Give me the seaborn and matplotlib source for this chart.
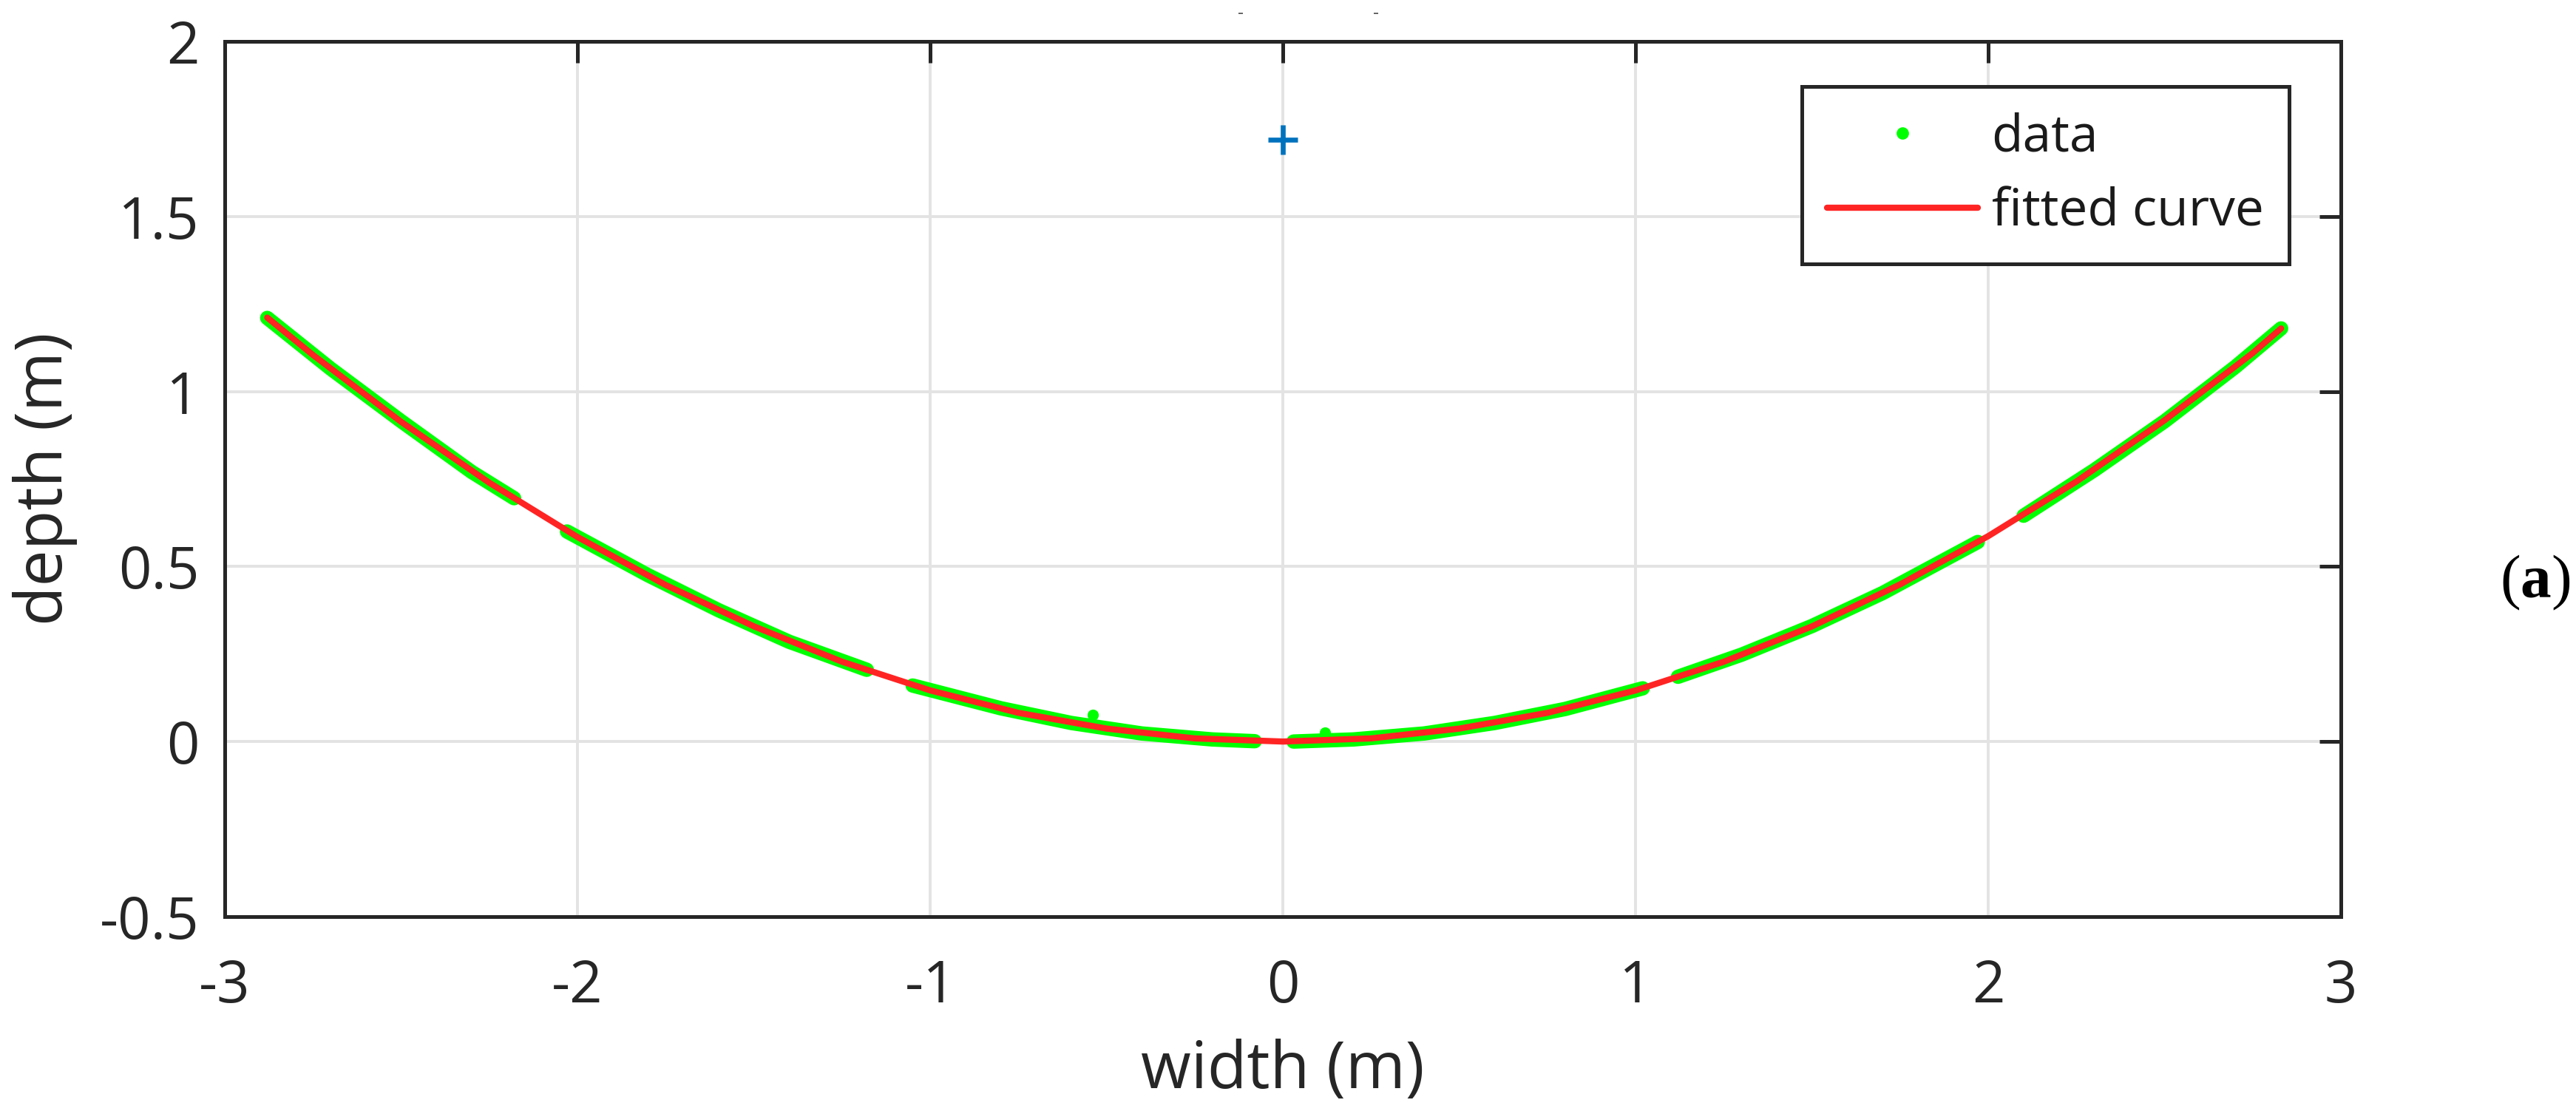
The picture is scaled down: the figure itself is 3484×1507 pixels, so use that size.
import matplotlib
matplotlib.use("Agg")
import matplotlib.pyplot as plt
from matplotlib.lines import Line2D
from matplotlib.ticker import FuncFormatter
import pandas as pd
import seaborn as sns

# measured points (green), split into the scanned segments
seg_x = [
    [-2.88, -2.7, -2.5, -2.3, -2.18],
    [-2.03, -1.8, -1.6, -1.4, -1.18],
    [-1.05, -0.8, -0.6, -0.4, -0.2, -0.08],
    [0.03, 0.2, 0.4, 0.6, 0.8, 1.02],
    [1.12, 1.3, 1.5, 1.7, 1.97],
    [2.10, 2.3, 2.5, 2.7, 2.83],
]
seg_y = [
    [1.21, 1.065, 0.915, 0.77, 0.695],
    [0.60, 0.475, 0.375, 0.285, 0.205],
    [0.16, 0.095, 0.053, 0.023, 0.006, 0.001],
    [0.0, 0.006, 0.023, 0.053, 0.093, 0.152],
    [0.185, 0.248, 0.33, 0.424, 0.57],
    [0.645, 0.775, 0.915, 1.07, 1.18],
]
outlier_x = [-0.54, 0.12]
outlier_y = [0.076, 0.025]

# fitted curve (red)
fit_x = [-2.88, -2.75, -2.5, -2.25, -2.0, -1.75, -1.5, -1.25, -1.0, -0.75, -0.5, -0.25,
         0.0, 0.25, 0.5, 0.75, 1.0, 1.25, 1.5, 1.75, 2.0, 2.25, 2.5, 2.75, 2.83]
fit_y = [1.211, 1.104, 0.913, 0.739, 0.584, 0.447, 0.329, 0.228, 0.146, 0.082, 0.037, 0.009,
         0.0, 0.009, 0.037, 0.082, 0.146, 0.228, 0.329, 0.449, 0.587, 0.743, 0.918, 1.11, 1.18]

# focus point (blue +)
focus_x = [0.0]
focus_y = [1.72]

xticks = [-3, -2, -1, 0, 1, 2, 3]
yticks = [-0.5, 0, 0.5, 1, 1.5, 2]

sns.set_theme(style="white")
plt.rcParams['font.family'] = ['Open Sans', 'DejaVu Sans']
plt.rcParams['axes.unicode_minus'] = False
plt.rcParams['mathtext.fontset'] = 'custom'
plt.rcParams['mathtext.rm'] = 'Liberation Serif'
plt.rcParams['mathtext.bf'] = 'Liberation Serif:bold'

fig = plt.figure(figsize=(17.42, 7.535), dpi=200)
ax = fig.add_axes([0.0873, 0.1772, 0.8215, 0.7857])

green = '#00ff00'
red = '#ff2424'
blue = '#0072bd'
axcol = '#262626'

rows = []
for i, (xs, ys) in enumerate(zip(seg_x, seg_y)):
    for x, y in zip(xs, ys):
        rows.append({'seg': i, 'x': x, 'y': y})
data = pd.DataFrame(rows)

sns.lineplot(data=data, x='x', y='y', units='seg', estimator=None, sort=False,
             color=green, linewidth=7, solid_capstyle='round', ax=ax, zorder=3)
sns.scatterplot(x=outlier_x, y=outlier_y, color=green, s=30, linewidth=0, ax=ax, zorder=3)
sns.lineplot(x=fit_x, y=fit_y, sort=False, estimator=None, color=red, linewidth=3,
             ax=ax, zorder=4)
sns.scatterplot(x=focus_x, y=focus_y, marker='+', color=blue, s=210, linewidth=2.4,
                ax=ax, zorder=5)

ax.set_xlim(-3, 3)
ax.set_ylim(-0.5, 2)
ax.set_xticks(xticks)
ax.set_yticks(yticks)
fmt = FuncFormatter(lambda v, p: '%g' % v)
ax.xaxis.set_major_formatter(fmt)
ax.yaxis.set_major_formatter(fmt)
ax.grid(True, color='#e3e3e3', linewidth=1.4, zorder=0)
ax.set_axisbelow(True)
for s in ax.spines.values():
    s.set_visible(True)
    s.set_color(axcol)
    s.set_linewidth(1.8)
ax.tick_params(direction='in', length=10.4, width=1.8, color=axcol, top=True, right=True,
               labelsize=28, labelcolor=axcol)
ax.tick_params(axis='x', pad=20)
ax.tick_params(axis='y', pad=12.5)
ax.set_xlabel('width (m)', fontsize=31.5, color=axcol)
ax.set_ylabel('depth (m)', fontsize=31.5, color=axcol)
ax.xaxis.set_label_coords(0.5, -0.139)
ax.yaxis.set_label_coords(-0.0695, 0.5)

handles = [
    Line2D([], [], linestyle='none', marker='o', markersize=5, color=green),
    Line2D([], [], color=red, linewidth=3),
]
leg = ax.legend(handles, ['data', 'fitted curve'], loc='upper right', fontsize=25,
                frameon=True, fancybox=False, edgecolor=axcol, framealpha=1,
                bbox_to_anchor=(0.9755, 0.9485), borderaxespad=0, handlelength=2.94,
                handletextpad=0.26, borderpad=0.5, labelspacing=0.44)
leg.get_frame().set_linewidth(1.8)
for t in leg.get_texts():
    t.set_color('#1a1a1a')

fig.text(0.998, 0.478, r'$\mathrm{(}\mathbf{a}\mathrm{)}$', fontsize=30,
         ha='right', va='center', color='black')

# remnants of a cropped title at the very top edge
fig.text(0.4816, 0.988, '-', fontsize=9, color='#555555', ha='center', va='center')
fig.text(0.5342, 0.988, '-', fontsize=9, color='#555555', ha='center', va='center')

fig.savefig('out.png', dpi=200, facecolor='white')
